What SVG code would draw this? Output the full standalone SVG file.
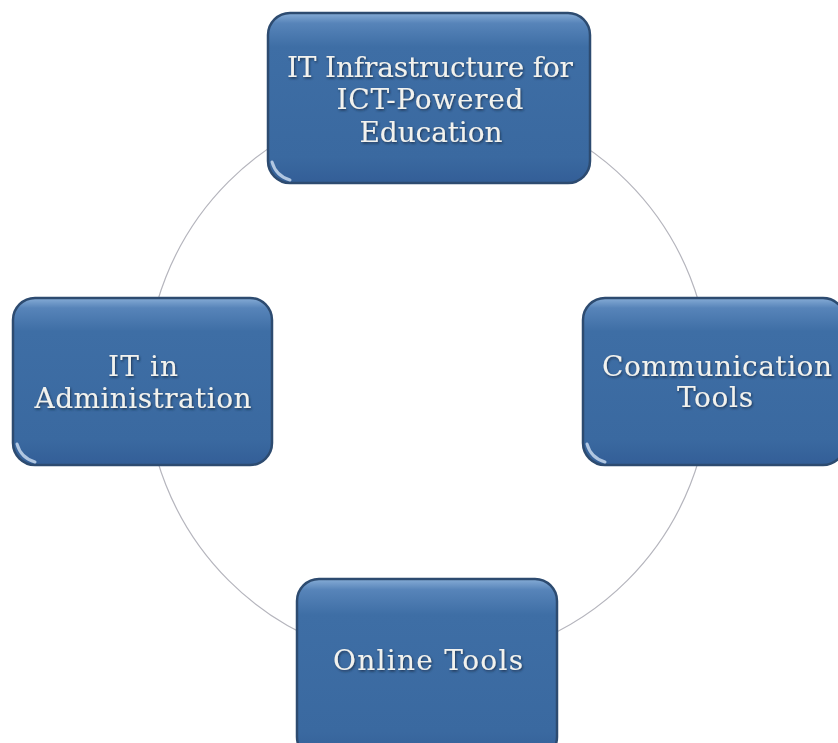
<svg xmlns="http://www.w3.org/2000/svg" width="838" height="743" viewBox="0 0 838 743">
<defs>
<linearGradient id="g" x1="0" y1="0" x2="0" y2="1">
<stop offset="0" stop-color="#86acd6"/>
<stop offset="0.06" stop-color="#5784b9"/>
<stop offset="0.2" stop-color="#3e6ea5"/>
<stop offset="0.85" stop-color="#3a69a0"/>
<stop offset="1" stop-color="#335e97"/>
</linearGradient>
<filter id="ts" x="-10%" y="-20%" width="120%" height="140%">
<feDropShadow dx="1" dy="1.5" stdDeviation="0.8" flood-color="#1a2c44" flood-opacity="0.8"/>
</filter>
</defs>
<style>
.box{fill:url(#g);stroke:#2d4b70;stroke-width:2.5}
.hl{fill:none;stroke:#cfe0f2;stroke-width:3;stroke-linecap:round;opacity:0.8}
.lbl{font-family:"DejaVu Serif","Liberation Serif",serif;font-size:28px;fill:#f2f2ee;text-anchor:middle;filter:url(#ts)}
.arc{fill:none;stroke:#b5b5bd;stroke-width:1.2}
</style>
<rect width="838" height="743" fill="#ffffff"/>
<g id="connectors">
<path class="arc" d="M428 99 A282 282 0 0 0 146 381"/>
<path class="arc" d="M146 381 A282 282 0 0 0 428 663"/>
<path class="arc" d="M428 663 A282 282 0 0 0 710 381"/>
<path class="arc" d="M710 381 A282 282 0 0 0 428 99"/>
</g>
<g id="node-top">
<rect class="box" x="268" y="13" width="322" height="170" rx="22"/>
<path class="hl" d="M272 162 Q276 176 290 180"/>
<text class="lbl" x="430" y="77" textLength="286" lengthAdjust="spacing">IT Infrastructure for</text>
<text class="lbl" x="430" y="109" textLength="187" lengthAdjust="spacing">ICT-Powered</text>
<text class="lbl" x="431" y="142" textLength="143" lengthAdjust="spacing">Education</text>
</g>
<g id="node-left">
<rect class="box" x="13" y="298" width="259" height="167" rx="22"/>
<path class="hl" d="M17 444 Q21 458 35 462"/>
<text class="lbl" x="143" y="376" textLength="70" lengthAdjust="spacing">IT in</text>
<text class="lbl" x="143" y="408" textLength="217" lengthAdjust="spacing">Administration</text>
</g>
<g id="node-right">
<rect class="box" x="583" y="298" width="262" height="167" rx="22"/>
<path class="hl" d="M587 444 Q591 458 605 462"/>
<text class="lbl" x="717" y="376" textLength="230" lengthAdjust="spacing">Communication</text>
<text class="lbl" x="715" y="407" textLength="76" lengthAdjust="spacing">Tools</text>
</g>
<g id="node-bottom">
<rect class="box" x="297" y="579" width="260" height="180" rx="22"/>
<text class="lbl" x="428" y="670" textLength="190" lengthAdjust="spacing">Online Tools</text>
</g>
</svg>
